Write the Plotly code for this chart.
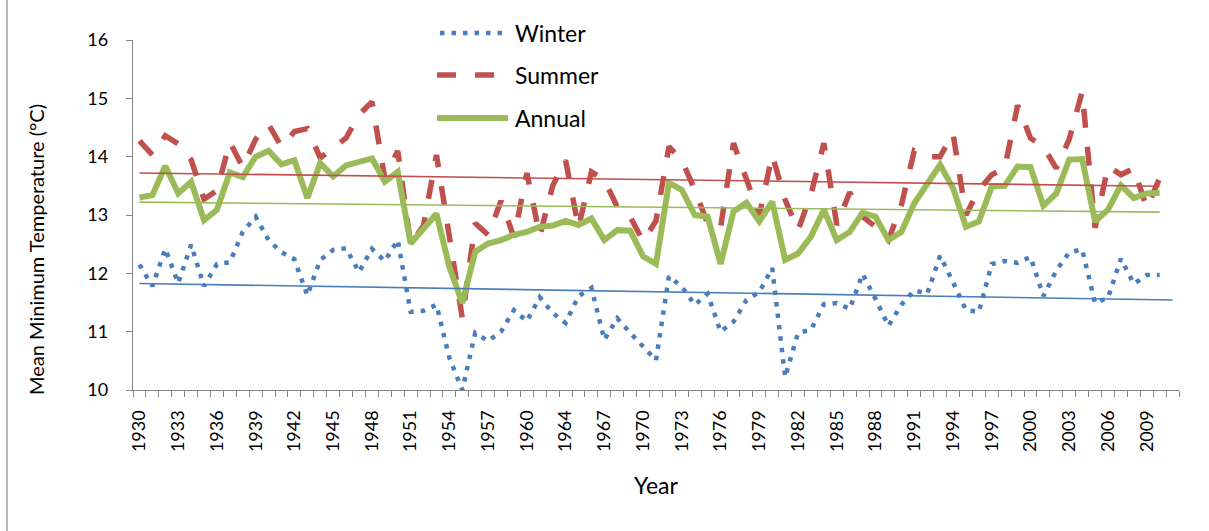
import numpy as np
import plotly.graph_objects as go

# ---------------- data ----------------
years = [str(y) for y in list(range(1930, 1962)) + list(range(1963, 2012))]
tick_labels = years[::3]

winter = [12.15, 11.78, 12.42, 11.83, 12.49, 11.78, 12.16, 12.19, 12.71, 12.97,
          12.57, 12.36, 12.24, 11.62, 12.23, 12.40, 12.43, 12.02, 12.42, 12.21,
          12.57, 11.34, 11.36, 11.46, 10.55, 10.00, 10.98, 10.84, 11.00, 11.37,
          11.18, 11.59, 11.32, 11.15, 11.61, 11.75, 10.86, 11.23, 10.98, 10.74,
          10.51, 11.95, 11.77, 11.46, 11.65, 11.00, 11.17, 11.54, 11.68, 12.09,
          10.22, 10.98, 11.03, 11.47, 11.49, 11.39, 11.99, 11.56, 11.10, 11.46,
          11.71, 11.65, 12.30, 11.85, 11.37, 11.34, 12.16, 12.21, 12.18, 12.28,
          11.61, 12.05, 12.36, 12.41, 11.49, 11.58, 12.25, 11.82, 11.97, 11.97]

summer = [14.27, 14.03, 14.36, 14.22, 13.95, 13.27, 13.42, 14.25, 13.82, 14.30,
          14.55, 14.17, 14.43, 14.48, 13.98, 14.15, 14.32, 14.72, 14.94, 13.63,
          14.10, 12.50, 12.82, 14.03, 12.60, 11.23, 12.86, 12.66, 13.24, 12.62,
          13.72, 12.64, 13.50, 13.94, 12.78, 13.74, 13.60, 13.14, 12.97, 12.55,
          12.90, 14.17, 13.94, 13.43, 12.85, 12.78, 14.23, 13.60, 13.00, 14.03,
          13.26, 12.74, 13.35, 14.23, 12.83, 13.39, 12.97, 12.80, 12.57, 13.17,
          14.10, 14.00, 14.00, 14.40, 13.00, 13.43, 13.69, 13.80, 14.88, 14.32,
          14.17, 13.80, 14.30, 15.11, 12.78, 13.84, 13.69, 13.80, 13.12, 13.63]

annual = [13.30, 13.34, 13.84, 13.37, 13.57, 12.91, 13.09, 13.73, 13.65, 14.00,
          14.10, 13.87, 13.94, 13.29, 13.89, 13.66, 13.85, 13.90, 13.97, 13.57,
          13.74, 12.51, 12.77, 13.02, 12.11, 11.49, 12.37, 12.51, 12.57, 12.66,
          12.71, 12.80, 12.82, 12.90, 12.83, 12.94, 12.57, 12.74, 12.73, 12.29,
          12.16, 13.55, 13.43, 13.00, 12.97, 12.16, 13.06, 13.21, 12.89, 13.23,
          12.23, 12.34, 12.63, 13.09, 12.57, 12.71, 13.04, 12.97, 12.57, 12.71,
          13.20, 13.51, 13.86, 13.46, 12.80, 12.89, 13.49, 13.50, 13.83, 13.82,
          13.16, 13.37, 13.95, 13.96, 12.89, 13.09, 13.51, 13.29, 13.37, 13.38]

series_names = ["Winter", "Summer", "Annual"]
colors = {"Winter": "#4A7EBB", "Summer": "#C0504D", "Annual": "#9BBB59"}

# ---------------- figure ----------------
x_all = np.arange(len(years))
fig = go.Figure()

line_styles = {
    "Winter": dict(width=4.5, dash="4.5px,7px"),
    "Summer": dict(width=5.5, dash="19px,19px"),
    "Annual": dict(width=6, dash="solid"),
}
data = {"Winter": winter, "Summer": summer, "Annual": annual}

for name in series_names:
    vals = data[name]
    fig.add_trace(go.Scatter(
        x=x_all[:len(vals)], y=vals, mode="lines", name=name,
        line=dict(color=colors[name], **line_styles[name]),
        showlegend=False, hoverinfo="skip"))

# linear trendlines (Winter trend extends over full category range)
trend_end = {"Winter": len(years) - 1, "Summer": len(summer) - 1, "Annual": len(annual) - 1}
for name in series_names:
    vals = np.array(data[name])
    xs = np.arange(len(vals))
    m, b = np.polyfit(xs, vals, 1)
    xt = np.array([0, trend_end[name]])
    fig.add_trace(go.Scatter(
        x=xt, y=m * xt + b, mode="lines", showlegend=False, hoverinfo="skip",
        line=dict(color=colors[name], width=1.6)))

# ---------------- manual legend (long samples like the original) ----------------
L, R, T, B = 133, 30, 40, 141
W, H = 1209, 531
pw, ph = W - L - R, H - T - B

def px_x(px):
    return (px - L) / pw

def px_y(py):
    return (H - B - py) / ph

legend_rows = [("Winter", 33, 440, 505), ("Summer", 75, 437, 508), ("Annual", 118, 437, 508)]
shapes = []
annotations = []
for name, ypix, xs0, xs1 in legend_rows:
    st = line_styles[name]
    shapes.append(dict(type="line", xref="paper", yref="paper",
                       x0=px_x(xs0), x1=px_x(xs1), y0=px_y(ypix), y1=px_y(ypix),
                       line=dict(color=colors[name], width=st["width"], dash=st["dash"])))
    annotations.append(dict(text=name, xref="paper", yref="paper", x=px_x(513), y=px_y(ypix),
                            xanchor="left", yanchor="middle", showarrow=False,
                            font=dict(family="Lato", size=23, color="#000000")))

# y-axis title (placed like the original)
annotations.append(dict(text="Mean Minimum Temperature (°C)", xref="paper", yref="paper",
                        x=px_x(36), y=px_y(250), textangle=-90, showarrow=False,
                        xanchor="center", yanchor="middle",
                        font=dict(family="Lato", size=20, color="#000000")))

# chart-area border
shapes.append(dict(type="rect", xref="paper", yref="paper",
                   x0=px_x(7), x1=px_x(W + 5), y0=px_y(H + 5), y1=px_y(-5),
                   line=dict(color="#8C8C8C", width=1.2), layer="below"))

axis_gray = "#868686"
fig.update_layout(
    width=W, height=H,
    margin=dict(l=L, r=R, t=T, b=B, autoexpand=False),
    paper_bgcolor="white", plot_bgcolor="white",
    font=dict(family="Lato", color="#000000"),
    shapes=shapes, annotations=annotations,
    xaxis=dict(
        range=[-0.5, len(years) - 0.5], automargin=False,
        tickmode="array", tickvals=x_all[::3], ticktext=tick_labels,
        tickangle=-90, ticks="", showgrid=False, zeroline=False,
        showline=True, linecolor=axis_gray, linewidth=1.3,
        tickfont=dict(family="Lato", size=18, color="#000000"),
        ticklabelstandoff=12,
        minor=dict(tickmode="array", tickvals=np.arange(-0.5, len(years), 1.0),
                   ticks="outside", ticklen=6, tickcolor=axis_gray, tickwidth=1.3,
                   showgrid=False),
        title=dict(text="Year", font=dict(family="Lato", size=23, color="#000000"), standoff=26),
    ),
    yaxis=dict(
        range=[10, 16], dtick=1, tick0=10, automargin=False,
        ticks="outside", ticklen=6, tickcolor=axis_gray, tickwidth=1.3,
        showline=True, linecolor=axis_gray, linewidth=1.3,
        showgrid=False, zeroline=False,
        tickfont=dict(family="Lato", size=18, color="#000000"),
        ticklabelstandoff=14,
    ),
)

fig.write_html("out.html", config={"displayModeBar": False},
               post_script="document.body.style.margin='0px';")
